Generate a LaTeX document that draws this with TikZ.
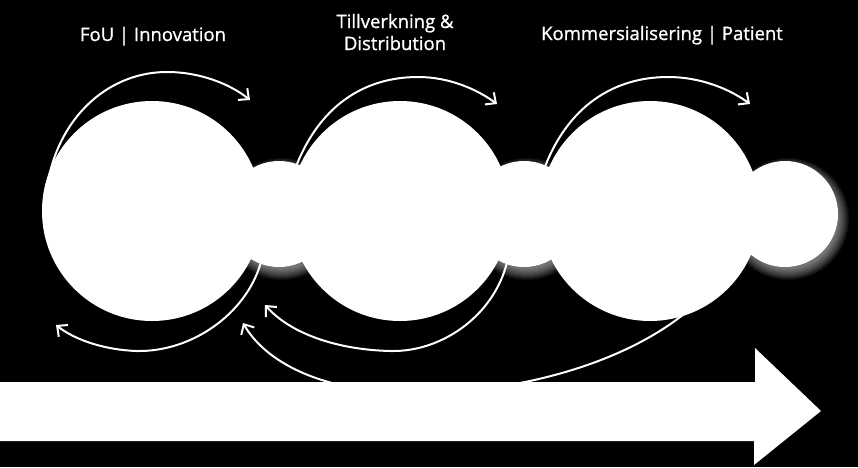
\documentclass[tikz,border=0pt]{standalone}
\usepackage{fontspec}
\setsansfont{Open Sans}[FakeBold=1]
\usetikzlibrary{arrows.meta}
\begin{document}
\begin{tikzpicture}[x=1pt,y=-1pt,
bigcloud/.style={circle,fill=white,minimum size=220pt,inner sep=0pt},
smallcloud/.style={circle,fill=white,minimum size=106pt,inner sep=0pt},
loopline/.style={draw=white,line width=2pt,-{Straight Barb[length=8pt,width=15pt]}},
phase/.style={text=white,font=\sffamily\fontsize{18.5}{22}\selectfont,align=center,anchor=base}
]
\fill[black] (0,0) rectangle (858,467);
\useasboundingbox (0,0) rectangle (858,467);

\coordinate (fs) at (46,236);
\coordinate (ft) at (250,100);
\coordinate (ts) at (294,172);
\coordinate (tt) at (497,104);
\coordinate (ks) at (543,172);
\coordinate (kt) at (750,104);
\coordinate (ba) at (262,258);
\coordinate (ea) at (56,325);
\coordinate (bb) at (508,258);
\coordinate (eb) at (265,305);
\coordinate (bc) at (700,300);
\coordinate (ec) at (243,323);

\draw[loopline] (fs) .. controls (36,140) and (95,72) .. (167,72) .. controls (200,72) and (230,84) .. (ft);
\draw[loopline] (ts) .. controls (318,105) and (365,77) .. (418,77) .. controls (450,77) and (478,90) .. (tt);
\draw[loopline] (ks) .. controls (567,105) and (615,77) .. (668,77) .. controls (702,77) and (731,90) .. (kt);
\draw[loopline] (ba) .. controls (250,310) and (195,352) .. (137,351) .. controls (105,350) and (75,340) .. (ea);
\draw[loopline] (bb) .. controls (497,312) and (445,352) .. (391,351) .. controls (340,350) and (292,335) .. (eb);
\draw[loopline] (bc) .. controls (640,358) and (530,392) .. (420,393) .. controls (330,394) and (268,366) .. (ec);

\foreach \c in {279,524,785}
  \foreach \k in {0,...,11}
    \fill[white,opacity=0.05] (\c+3,219) circle (50+\k);

\node[smallcloud] (s1) at (279,214) {};
\node[smallcloud] (s2) at (524,214) {};
\node[smallcloud] (s3) at (785,214) {};
\node[bigcloud] (fou) at (152,211) {};
\node[bigcloud] (till) at (400,211) {};
\node[bigcloud] (komm) at (650,211) {};

\fill[white] (0,382) -- (755,382) -- (755,348) -- (821,411) -- (754,465) -- (754,441) -- (0,441) -- cycle;

\node[phase] (tfou) at (153,41) {FoU | Innovation};
\node[phase] (ttill) at (395,50) {Tillverkning \&\\Distribution};
\node[phase] (tkomm) at (662,40) {Kommersialisering | Patient};
\end{tikzpicture}
\end{document}
